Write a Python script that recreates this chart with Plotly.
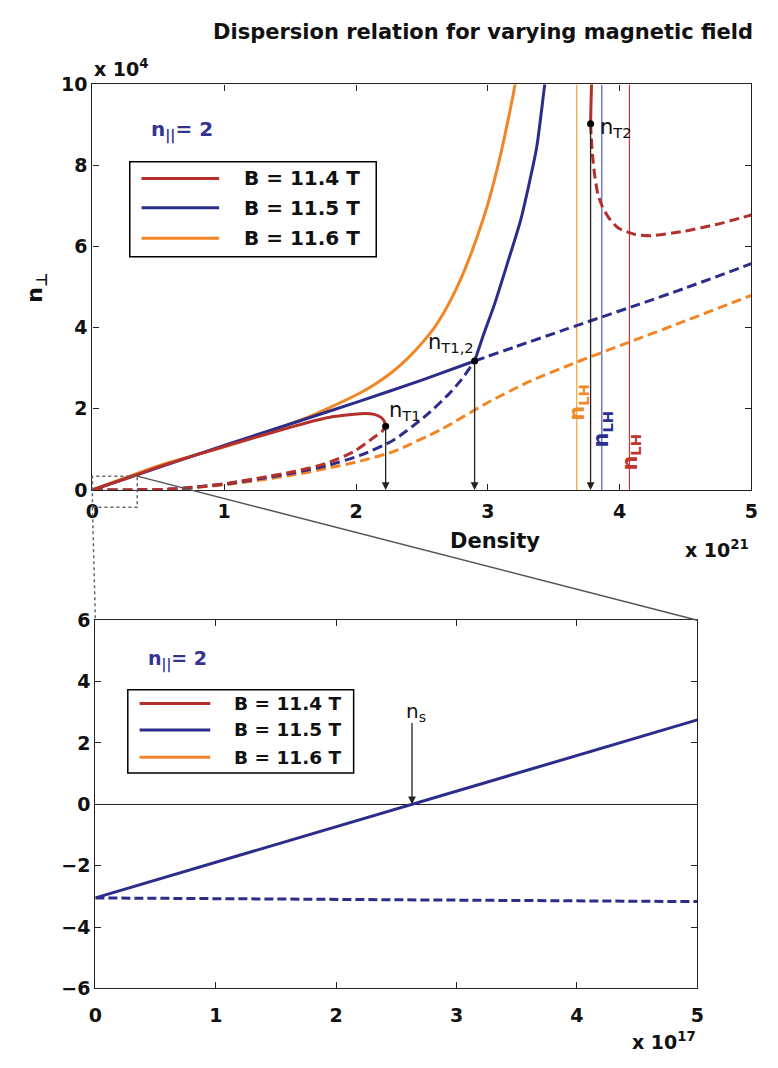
import plotly.graph_objects as go

W, H = 778, 1068

# ---------------- upper panel: density (x 1e21) vs n_perp (x 1e4) ----------------
# B = 11.4 T
b114_solid_x = [0, 0.3, 0.544, 1.04, 1.54, 1.78, 2.03, 2.13, 2.19, 2.215, 2.225]
b114_solid_y = [0, 0.33, 0.61, 1.11, 1.58, 1.78, 1.88, 1.87, 1.79, 1.69, 1.57]
b114_dash_x = [0, 0.3, 0.6, 0.8, 1.04, 1.29, 1.54, 1.78, 1.98, 2.13, 2.20, 2.225]
b114_dash_y = [0, 0.0, 0.02, 0.07, 0.17, 0.31, 0.46, 0.66, 0.94, 1.28, 1.45, 1.57]
b114_top_solid_x = [3.78, 3.783, 3.787, 3.79]
b114_top_solid_y = [9.03, 9.5, 10.0, 10.5]
b114_top_dash_x = [3.78, 3.785, 3.795, 3.81, 3.835, 3.87, 3.92, 3.99, 4.12, 4.24, 4.49, 4.75, 5.0]
b114_top_dash_y = [9.03, 8.7, 8.25, 7.79, 7.3, 6.98, 6.7, 6.46, 6.30, 6.27, 6.38, 6.56, 6.78]

# B = 11.5 T
b115_solid_x = [0, 0.544, 1.04, 1.54, 2.03, 2.5, 2.90]
b115_solid_y = [0, 0.6, 1.14, 1.67, 2.19, 2.71, 3.18]
b115_solid_up_x = [2.90, 2.97, 3.05, 3.15, 3.25, 3.37, 3.43, 3.46]
b115_solid_up_y = [3.18, 3.85, 4.57, 5.6, 6.66, 8.43, 9.94, 10.6]
b115_dash_x = [0, 0.3, 0.6, 1.04, 1.29, 1.54, 1.78, 2.03, 2.28, 2.53, 2.70, 2.80, 2.90]
b115_dash_y = [0, 0.0, 0.02, 0.16, 0.29, 0.43, 0.6, 0.85, 1.22, 1.83, 2.35, 2.72, 3.18]
b115_dash_up_x = [2.90, 3.2, 3.6, 4.14, 4.5, 5.0]
b115_dash_up_y = [3.18, 3.52, 3.97, 4.57, 4.98, 5.58]

# B = 11.6 T
b116_solid_x = [0, 0.544, 1.04, 1.54, 1.78, 2.03, 2.15, 2.28, 2.40, 2.50, 2.60, 2.68,
                2.76, 2.84, 2.92, 3.00, 3.07, 3.13, 3.19, 3.24]
b116_solid_y = [0, 0.64, 1.10, 1.67, 2.0, 2.39, 2.62, 2.92, 3.27, 3.62, 4.03, 4.45,
                4.95, 5.55, 6.25, 7.05, 7.9, 8.75, 9.7, 10.6]
b116_dash_x = [0, 0.3, 0.6, 1.04, 1.54, 1.78, 2.03, 2.28, 2.65, 2.98, 3.3, 3.65, 4.07, 4.5, 5.0]
b116_dash_y = [0, 0.0, 0.02, 0.14, 0.38, 0.53, 0.71, 0.94, 1.5, 2.12, 2.65, 3.12, 3.64, 4.17, 4.8]

# lower-hybrid resonance densities (x 1e21) for 11.6, 11.5, 11.4 T
n_lh_x = [3.675, 3.865, 4.075]

# turning points
nt_x = [2.225, 2.90, 3.78]
nt_y = [1.57, 3.18, 9.03]
nt_labels = ["n<sub>T1</sub>", "n<sub>T1,2</sub>", "n<sub>T2</sub>"]

# ---------------- lower panel: density (x 1e17), B = 11.5 T ----------------
low_x = [0, 5]
low_solid_y = [-3.05, 2.75]
low_dash_y = [-3.05, -3.17]
ns_x = 2.63

legend_labels = ["B = 11.4 T", "B = 11.5 T", "B = 11.6 T"]

RED = "#b3302c"
BLUE = "#2c2c8a"
ORANGE = "#f28627"
LH_COLORS = ["#f4a43a", "#4a5cc4", "#d3313a"]
LH_TEXT = ["#ee8a2a", "#2c2f90", "#c0342e"]
NPAR = "#343490"

FONT = "DejaVu Sans"

# axes placement (fractions of the page)
TOP_X = [87 / W, 758 / W]
TOP_Y = [1 - 489 / H, 1 - 75 / H]
BOT_X = [90 / W, 703 / W]
BOT_Y = [1 - 998 / H, 1 - 622 / H]


def px(x):
    return x / W


def py(y):
    return 1 - y / H


def top_to_paper(x, y):
    return (TOP_X[0] + x / 5 * (TOP_X[1] - TOP_X[0]),
            TOP_Y[0] + y / 10 * (TOP_Y[1] - TOP_Y[0]))


fig = go.Figure()

DASH_TOP = "10px,5px"


def add(x, y, color, dash="solid", axes=("x", "y"), width=3):
    fig.add_trace(go.Scatter(
        x=x, y=y, mode="lines", xaxis=axes[0], yaxis=axes[1],
        line=dict(color=color, width=width, dash=dash, shape="spline", smoothing=0.6),
        showlegend=False, hoverinfo="skip"))


# resonance lines
for xv, c in zip(n_lh_x, LH_COLORS):
    fig.add_trace(go.Scatter(x=[xv, xv], y=[0, 10], mode="lines",
                             line=dict(color=c, width=1.2), showlegend=False,
                             hoverinfo="skip"))

add(b116_solid_x, b116_solid_y, ORANGE)
add(b116_dash_x, b116_dash_y, ORANGE, DASH_TOP)
add(b115_solid_x, b115_solid_y, BLUE)
add(b115_solid_up_x, b115_solid_up_y, BLUE)
add(b115_dash_x, b115_dash_y, BLUE, DASH_TOP)
add(b115_dash_up_x, b115_dash_up_y, BLUE, DASH_TOP)
add(b114_solid_x, b114_solid_y, RED)
add(b114_dash_x, b114_dash_y, RED, DASH_TOP)
add(b114_top_solid_x, b114_top_solid_y, RED)
add(b114_top_dash_x, b114_top_dash_y, RED, DASH_TOP)

# turning-point markers
fig.add_trace(go.Scatter(x=nt_x, y=nt_y, mode="markers",
                         marker=dict(color="black", size=7), showlegend=False,
                         hoverinfo="skip"))

# lower panel lines
add(low_x, low_solid_y, BLUE, "solid", ("x2", "y2"), 3)
add(low_x, low_dash_y, BLUE, "9px,4px", ("x2", "y2"), 3)

annotations = []
shapes = []

# arrows from turning points down to the density axis
for xv, yv in zip(nt_x, nt_y):
    annotations.append(dict(x=xv, y=0, ax=xv, ay=yv, xref="x", yref="y",
                            axref="x", ayref="y", text="", showarrow=True,
                            arrowhead=2, arrowsize=1.2, arrowwidth=1.3,
                            arrowcolor="#222"))

label_pos = [(2.235, 1.95), (2.53, 3.62), (3.84, 8.92)]
for (lx, ly), t in zip(label_pos, nt_labels):
    annotations.append(dict(x=lx, y=ly, xref="x", yref="y", text=t,
                            showarrow=False, xanchor="left", yanchor="middle",
                            font=dict(family=FONT, size=21, color="#111")))

# n_LH labels (rotated), straddling their resonance lines
lh_label_pos = [(3.685, 2.15), (3.87, 1.5), (4.085, 0.94)]
for (lx, ly), c in zip(lh_label_pos, LH_TEXT):
    annotations.append(dict(x=lx, y=ly, xref="x", yref="y",
                            text="n<sub>LH</sub>", textangle=-90,
                            showarrow=False, xanchor="center", yanchor="middle",
                            font=dict(family=FONT, size=21, color=c, weight="bold")))

# n_s arrow in lower panel
annotations.append(dict(x=ns_x, y=0, ax=ns_x, ay=2.7, xref="x2", yref="y2",
                        axref="x2", ayref="y2", text="", showarrow=True,
                        arrowhead=2, arrowsize=1.2, arrowwidth=1.3,
                        arrowcolor="#222"))
annotations.append(dict(x=ns_x - 0.07, y=3.0, xref="x2", yref="y2",
                        text="n<sub>s</sub>", showarrow=False,
                        xanchor="left", yanchor="middle",
                        font=dict(family=FONT, size=20, color="#111")))

# titles and exponent labels
BOLD = dict(family=FONT, color="#111", weight="bold")
annotations += [
    dict(x=px(762), y=py(21), xref="paper", yref="paper",
         text="Dispersion relation for varying magnetic field", showarrow=False,
         xanchor="right", yanchor="middle", font=dict(size=21, **BOLD)),
    dict(x=px(87), y=py(72), xref="paper", yref="paper",
         text="x 10<sup>4</sup>", showarrow=False, xanchor="left",
         yanchor="bottom", font=dict(size=19, **BOLD)),
    dict(x=px(758), y=py(564), xref="paper", yref="paper",
         text="x 10<sup>21</sup>", showarrow=False, xanchor="right",
         yanchor="bottom", font=dict(size=19, **BOLD)),
    dict(x=px(704), y=py(1066), xref="paper", yref="paper",
         text="x 10<sup>17</sup>", showarrow=False, xanchor="right",
         yanchor="bottom", font=dict(size=19, **BOLD)),
    dict(x=px(497), y=py(541), xref="paper", yref="paper",
         text="Density", showarrow=False, xanchor="center",
         yanchor="middle", font=dict(size=21, **BOLD)),
    dict(x=px(30), y=py(282), xref="paper", yref="paper",
         text="n<sub>⊥</sub>", textangle=-90, showarrow=False,
         xanchor="center", yanchor="middle", font=dict(size=22, **BOLD)),
    dict(x=px(145), y=py(122), xref="paper", yref="paper",
         text="n<sub>||</sub>= 2", showarrow=False, xanchor="left",
         yanchor="middle", font=dict(family=FONT, size=20, color=NPAR, weight="bold")),
    dict(x=px(142), y=py(663), xref="paper", yref="paper",
         text="n<sub>||</sub>= 2", showarrow=False, xanchor="left",
         yanchor="middle", font=dict(family=FONT, size=19, color=NPAR, weight="bold")),
]


def legend_box(box, rows, line_x, text_x, size):
    shapes.append(dict(type="rect", xref="paper", yref="paper",
                       x0=px(box[0]), x1=px(box[2]), y0=py(box[3]), y1=py(box[1]),
                       line=dict(color="black", width=1.5), fillcolor="white",
                       layer="above"))
    for row_y, color, lab in zip(rows, [RED, BLUE, ORANGE], legend_labels):
        shapes.append(dict(type="line", xref="paper", yref="paper",
                           x0=px(line_x[0]), x1=px(line_x[1]),
                           y0=py(row_y), y1=py(row_y),
                           line=dict(color=color, width=3), layer="above"))
        annotations.append(dict(x=px(text_x), y=py(row_y), xref="paper",
                                yref="paper", text=lab, showarrow=False,
                                xanchor="left", yanchor="middle",
                                font=dict(size=size, **BOLD)))


legend_box((125, 154, 376, 251), (171, 201, 232), (137, 216), 239, 20)
legend_box((123, 693, 353, 778), (707, 734, 762), (135, 207), 229, 18.5)

# zoom window on the upper panel and its connectors to the lower panel
zoom_x = [0, 0.34]
zoom_y = [-0.43, 0.34]
zx0, zy0 = top_to_paper(zoom_x[0], zoom_y[0])
zx1, zy1 = top_to_paper(zoom_x[1], zoom_y[1])
GRAY = "#666666"
shapes += [
    dict(type="rect", xref="paper", yref="paper", x0=zx0, x1=zx1, y0=zy0, y1=zy1,
         line=dict(color=GRAY, width=1.5, dash="dot"), layer="above"),
    dict(type="line", xref="paper", yref="paper", x0=zx0, y0=zy0,
         x1=BOT_X[0], y1=BOT_Y[1], line=dict(color=GRAY, width=1.5, dash="dot")),
    dict(type="line", xref="paper", yref="paper", x0=zx1, y0=zy1,
         x1=BOT_X[1], y1=BOT_Y[1], line=dict(color="#555", width=1.5)),
]

TICKFONT = dict(family=FONT, size=19, color="#111", weight="bold")
common = dict(showline=True, linecolor="#222", linewidth=1.2, mirror="allticks",
              ticks="inside", ticklen=6, tickcolor="#222", showgrid=False,
              tickfont=TICKFONT)

fig.update_layout(
    width=W, height=H, margin=dict(l=0, r=0, t=0, b=0),
    paper_bgcolor="white", plot_bgcolor="white", showlegend=False,
    xaxis=dict(domain=TOP_X, anchor="y", range=[0, 5], tickvals=[0, 1, 2, 3, 4, 5],
               zeroline=False, ticklabelstandoff=4, **common),
    yaxis=dict(domain=TOP_Y, anchor="x", range=[0, 10],
               tickvals=[0, 2, 4, 6, 8, 10], zeroline=False, **common),
    xaxis2=dict(domain=BOT_X, anchor="y2", range=[0, 5],
                tickvals=[0, 1, 2, 3, 4, 5], zeroline=False, ticklabelstandoff=10,
                **common),
    yaxis2=dict(domain=BOT_Y, anchor="x2", range=[-6, 6],
                tickvals=[-6, -4, -2, 0, 2, 4, 6], zeroline=True,
                zerolinecolor="#222", zerolinewidth=1.2, **common),
    annotations=annotations, shapes=shapes,
)

fig.write_html("out.html")
